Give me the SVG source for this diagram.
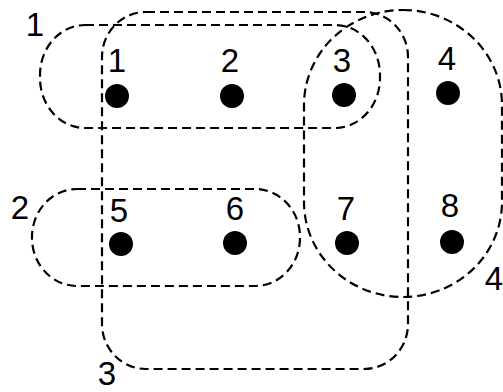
<svg xmlns="http://www.w3.org/2000/svg" width="503" height="392" viewBox="0 0 503 392">
<style>
.set{fill:none;stroke:#000;stroke-width:2.2;stroke-dasharray:9 5}
.dot{fill:#000}
text{font-family:"Liberation Sans",Arial,sans-serif;font-size:33px;fill:#000;text-anchor:middle}
</style>
<rect width="503" height="392" fill="#fff"/>
<g id="sets">
<g id="set1"><rect class="set" x="40" y="25" width="340" height="103" rx="45" ry="50"/><text x="35" y="36">1</text></g>
<g id="set2"><rect class="set" x="32" y="189" width="268" height="97" rx="45" ry="48"/><text x="20" y="219">2</text></g>
<g id="set3"><rect class="set" x="102" y="12" width="306" height="357" rx="44" ry="45"/><text x="107" y="385">3</text></g>
<g id="set4"><rect class="set" x="304" y="10" width="198" height="287" rx="99" ry="95"/><text x="494" y="290">4</text></g>
</g>
<g id="node1"><circle class="dot" cx="117" cy="96" r="12"/><text x="117" y="72">1</text></g>
<g id="node2"><circle class="dot" cx="232" cy="96" r="12"/><text x="230" y="72">2</text></g>
<g id="node3"><circle class="dot" cx="344" cy="95" r="12"/><text x="342" y="72">3</text></g>
<g id="node4"><circle class="dot" cx="448" cy="93" r="12"/><text x="447" y="70">4</text></g>
<g id="node5"><circle class="dot" cx="121" cy="244" r="12"/><text x="119" y="222">5</text></g>
<g id="node6"><circle class="dot" cx="235" cy="243" r="12"/><text x="235" y="220">6</text></g>
<g id="node7"><circle class="dot" cx="347" cy="243" r="12"/><text x="346" y="220">7</text></g>
<g id="node8"><circle class="dot" cx="452" cy="242" r="12"/><text x="450" y="217">8</text></g>
</svg>
